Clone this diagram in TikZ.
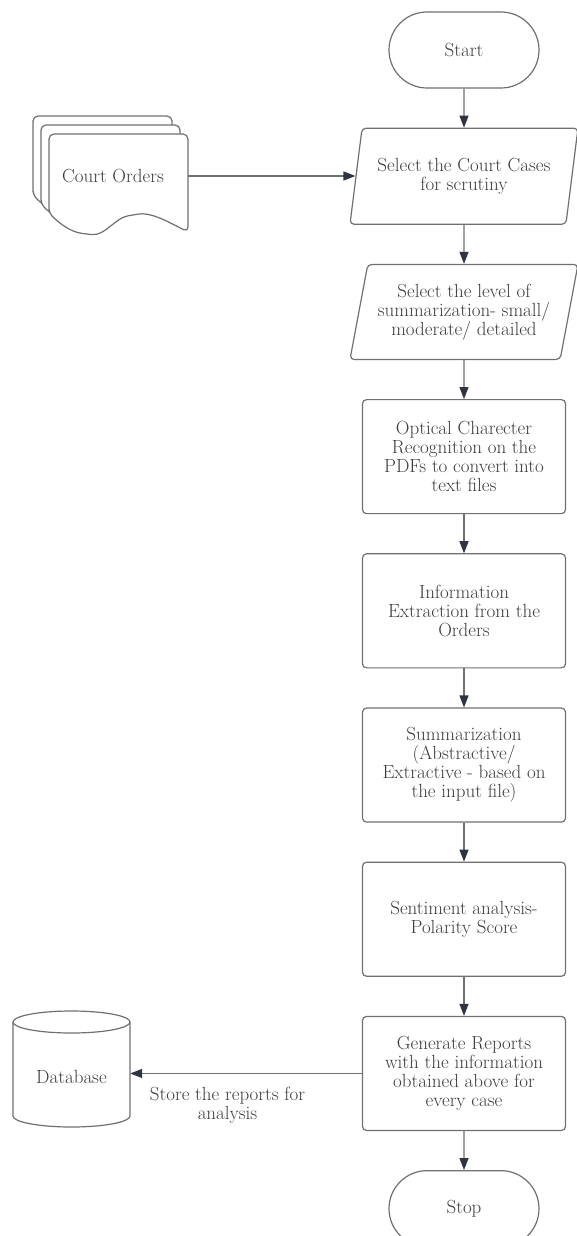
\documentclass[tikz,border=0pt]{standalone}
\usepackage{tikz}
\usetikzlibrary{arrows.meta, positioning, shapes.geometric, shapes.misc}
\usepackage{xcolor}
\definecolor{linegray}{HTML}{707070}
\definecolor{tipdark}{HTML}{2E3440}
\definecolor{textgray}{HTML}{3C3C3C}
\tikzset{
  every node/.style={font=\fontsize{19}{19}\selectfont, text=textgray, inner sep=3pt},
  terminal/.style={draw=linegray, line width=1.2pt, rounded rectangle, minimum width=156pt, minimum height=76pt},
  io/.style={draw=linegray, line width=1.2pt, trapezium, trapezium left angle=74, trapezium right angle=106,
    trapezium stretches body, minimum width=228pt, minimum height=96pt, rounded corners=4pt, align=center},
  process/.style={draw=linegray, line width=1.2pt, rectangle, rounded corners=4pt,
    minimum width=203pt, minimum height=114pt, align=center},
  sheet/.style={draw=linegray, line width=1.2pt, fill=white, rounded corners=5pt},
  flow/.style={draw=linegray, line width=1.2pt, -{Triangle[length=12pt, width=9pt, color=tipdark]}}
}
\begin{document}
\begin{tikzpicture}[x=1pt, y=-1pt, node distance=39pt]
            \useasboundingbox (0,0) rectangle (576,1236);
            \node[terminal] (start) at (464,50) {Start};
            \node[io, below=of start] (cases) {Select the Court Cases\\for scrutiny};
            \node[io, below=of cases, minimum height=95pt] (level) {Select the level of\\summarization- small/\\moderate/ detailed};
            \node[process, below=of level] (ocr) {Optical Charecter\\Recognition on the\\PDFs to convert into\\text files};
            \node[process, below=of ocr] (extract) {Information\\Extraction from the\\Orders};
            \node[process, below=of extract] (summ) {Summarization\\(Abstractive/\\Extractive - based on\\the input file)};
            \node[process, below=of summ] (senti) {Sentiment analysis-\\Polarity Score};
            \node[process, below=of senti] (report) {Generate Reports\\with the information\\obtained above for\\every case};
            \node[terminal, below=of report] (stop) {Stop};
            % stacked documents
            \foreach \s in {2,1,0}
              \draw[sheet, shift={(-8*\s,-9*\s)}] (49,213) -- (49,134) -- (188,134) -- (188,232)
                .. controls (165,220) and (150,212) .. (133,215)
                .. controls (115,218) and (105,236) .. (87,234)
                .. controls (70,232) and (58,222) .. (49,213) -- cycle;
            \node[minimum width=150pt, minimum height=80pt] (orders) at (113,176) {Court Orders};
            % database
            \draw[draw=linegray, line width=1.2pt] (13,1022) -- (13,1116)
              arc[start angle=180, end angle=0, x radius=58.5, y radius=11] -- (130,1022);
            \draw[draw=linegray, line width=1.2pt] (71.5,1022) ellipse [x radius=58.5, y radius=11];
            \node[minimum width=117pt, minimum height=80pt] (db) at (71.5,1077) {Database};
            % connectors
            \path [draw, flow] (start) -- (cases);
            \path [draw, flow] (orders.east) -- (orders.east -| cases.west);
            \path [draw, flow] (cases) -- (level);
            \path [draw, flow] (level) -- (ocr);
            \path [draw, flow] (ocr) -- (extract);
            \path [draw, flow] (extract) -- (summ);
            \path [draw, flow] (summ) -- (senti);
            \path [draw, flow] (senti) -- (report);
            \path [draw, flow] (report) -- (stop);
            \path [draw, flow] (report.west) -- (report.west -| db.east)
              node[pos=0.58, below=10pt, align=center] {Store the reports for\\analysis};
\end{tikzpicture}
\end{document}
